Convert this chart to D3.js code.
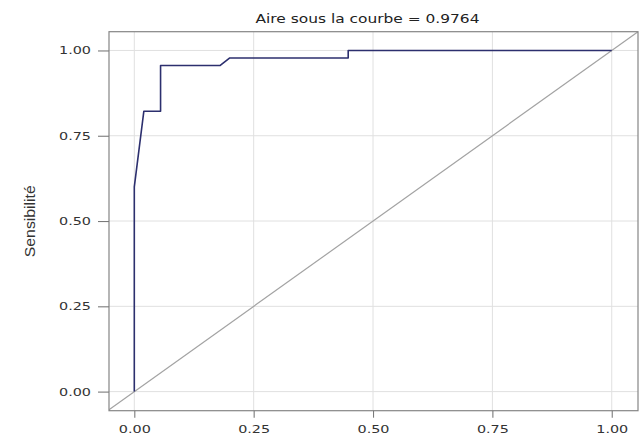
<!DOCTYPE html>
<html>
<head>
<meta charset="utf-8">
<script src="https://cdn.jsdelivr.net/npm/d3@7"></script>
<style>
  html, body { margin: 0; padding: 0; background: #fff; }
  svg { display: block; }
</style>
</head>
<body>
<svg id="chart" width="644" height="445"></svg>
<script>
// ROC curve: false positive rate (1 - specificity) and sensitivity
const fpr = [0, 0, 0.020, 0.055, 0.055, 0.180, 0.200, 0.448, 0.448, 1];
const tpr = [0, 0.600, 0.822, 0.822, 0.956, 0.956, 0.978, 0.978, 1, 1];
const xTicks = [0, 0.25, 0.5, 0.75, 1];
const yTicks = [0, 0.25, 0.5, 0.75, 1];
const aucValue = 0.9764;
const titleText = "Aire sous la courbe = " + aucValue.toFixed(4);
const yLabel = "Sensibilité";

const svg = d3.select("#chart");

// panel extents (data range padded on both sides)
const x = d3.scaleLinear().domain([-0.053, 1.055]).range([109, 638]);
const y = d3.scaleLinear().domain([-0.056, 1.055]).range([410.7, 31.7]);
const [x0, x1] = x.range();
const [yb, yt] = y.range();

svg.append("defs").append("clipPath").attr("id", "panel")
  .append("rect").attr("x", x0).attr("y", yt).attr("width", x1 - x0).attr("height", yb - yt);

// grid
const grid = svg.append("g").attr("stroke", "#e0e0e0").attr("stroke-width", 1);
grid.selectAll("line.v").data(xTicks).join("line").attr("class", "v")
  .attr("x1", d => x(d)).attr("x2", d => x(d)).attr("y1", yt).attr("y2", yb);
grid.selectAll("line.h").data(yTicks).join("line").attr("class", "h")
  .attr("y1", d => y(d)).attr("y2", d => y(d)).attr("x1", x0).attr("x2", x1);

const panel = svg.append("g").attr("clip-path", "url(#panel)");

// reference diagonal y = x across the whole panel
const dx = x.domain();
panel.append("line")
  .attr("x1", x(dx[0])).attr("y1", y(dx[0]))
  .attr("x2", x(dx[1])).attr("y2", y(dx[1]))
  .attr("stroke", "#a3a3a3").attr("stroke-width", 1.2);

// ROC curve
const line = d3.line().x(d => x(d[0])).y(d => y(d[1]));
panel.append("path")
  .datum(d3.zip(fpr, tpr))
  .attr("d", line)
  .attr("fill", "none")
  .attr("stroke", "#2c2f6e")
  .attr("stroke-width", 1.6)
  .attr("stroke-linejoin", "round");

// frame
svg.append("rect")
  .attr("x", x0).attr("y", yt).attr("width", x1 - x0).attr("height", yb - yt)
  .attr("fill", "none").attr("stroke", "#858585").attr("stroke-width", 1.2);

const fmt = d3.format(".2f");
const tickFont = "'DejaVu Sans', Verdana, sans-serif";

// x axis
const xAxis = svg.append("g").attr("transform", `translate(0,${yb})`)
  .call(d3.axisBottom(x).tickValues(xTicks).tickFormat(fmt).tickSize(7).tickPadding(8));
// y axis
const yAxis = svg.append("g").attr("transform", `translate(${x0},0)`)
  .call(d3.axisLeft(y).tickValues(yTicks).tickFormat(fmt).tickSize(11).tickPadding(7));

[xAxis, yAxis].forEach(g => {
  g.select(".domain").remove();
  g.selectAll(".tick line").attr("stroke", "#7a7a7a").attr("stroke-width", 1.1);
  g.selectAll(".tick text")
    .attr("fill", "#333")
    .style("font-family", tickFont)
    .style("font-size", "11px")
    .attr("textLength", 32)
    .attr("lengthAdjust", "spacingAndGlyphs");
});

// title
svg.append("text")
  .attr("x", 367.5).attr("y", 22.5)
  .attr("text-anchor", "middle")
  .attr("fill", "#222")
  .style("font-family", tickFont)
  .style("font-size", "11.5px")
  .attr("textLength", 224)
  .attr("lengthAdjust", "spacingAndGlyphs")
  .text(titleText);

// y axis title
svg.append("text")
  .attr("transform", `translate(35,${(yt + yb) / 2})rotate(-90)`)
  .attr("text-anchor", "middle")
  .attr("fill", "#333")
  .style("font-family", "'Liberation Sans Narrow', 'Liberation Sans', Arial, sans-serif")
  .style("font-size", "15px")
  .attr("textLength", 72)
  .attr("lengthAdjust", "spacingAndGlyphs")
  .text(yLabel);
</script>
</body>
</html>
